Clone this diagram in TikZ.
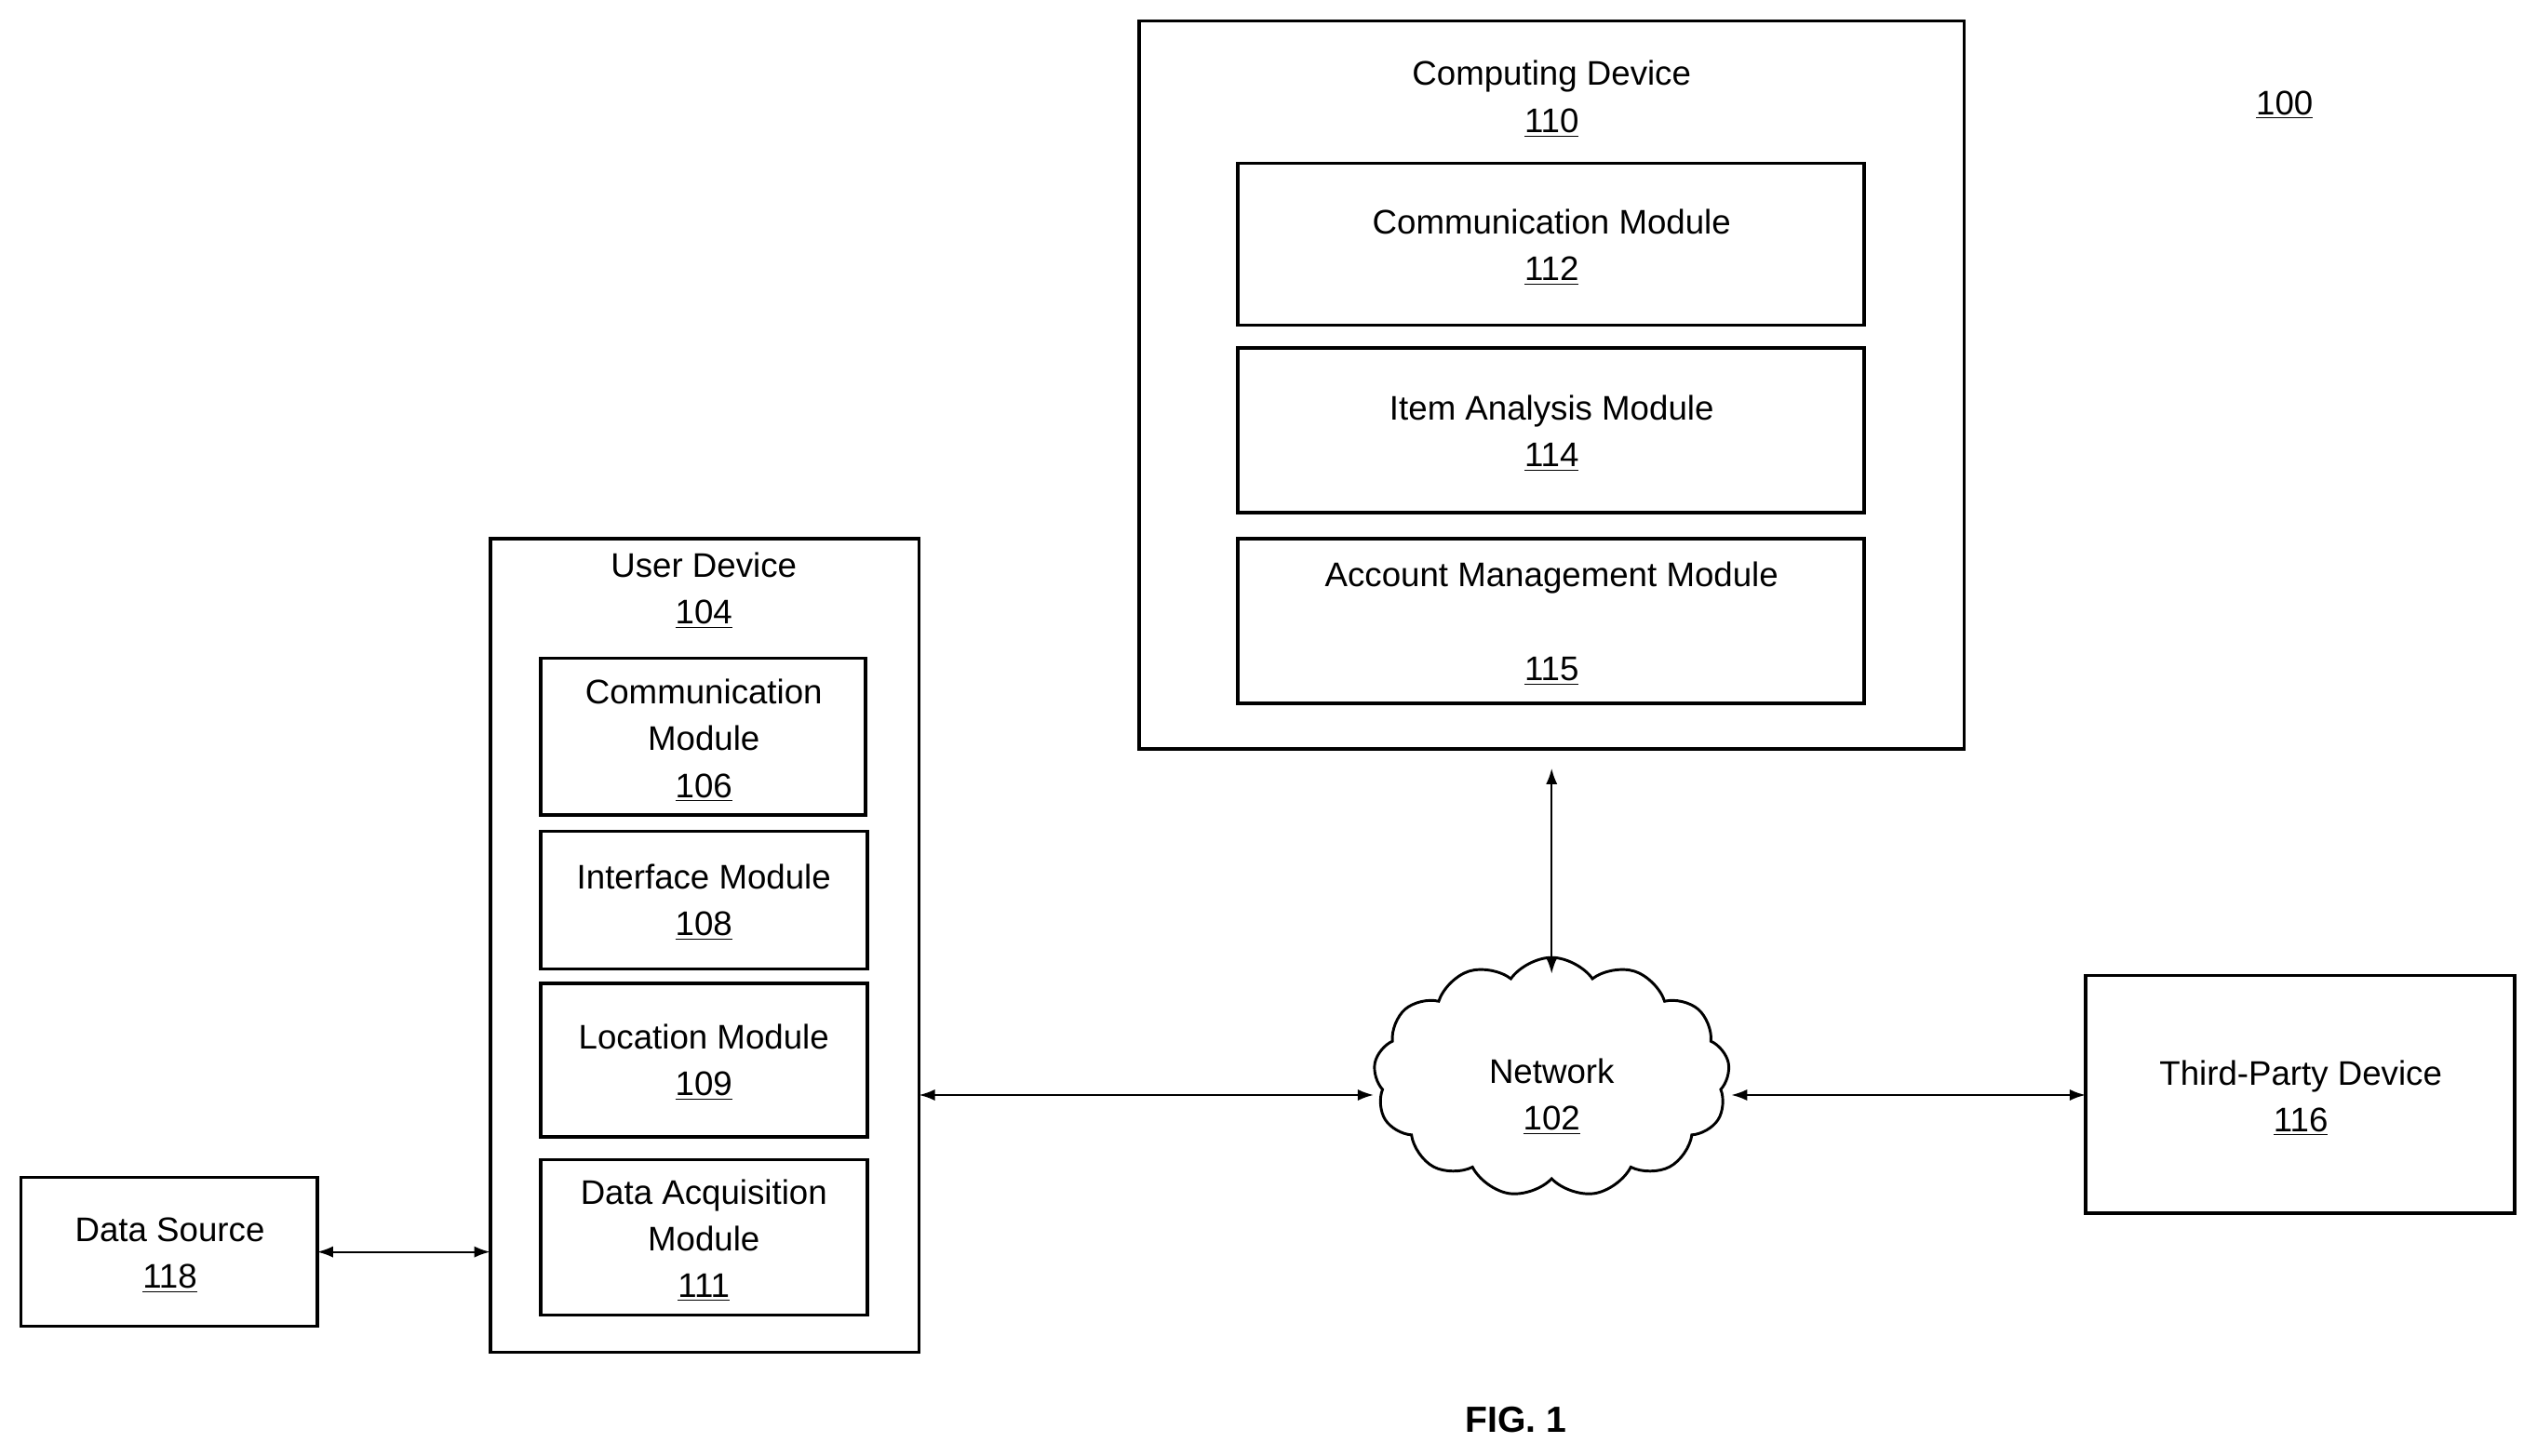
\documentclass[tikz,border=0pt]{standalone}
\usepackage{fontspec}
\setmainfont{Liberation Sans}
\usetikzlibrary{fit,shapes.symbols,arrows.meta}
\begin{document}
\begin{tikzpicture}[x=0.025cm,y=-0.025cm,
  box/.style={draw,line width=1.5pt,inner sep=0pt},
  lbl/.style={font=\fontsize{15}{18}\selectfont,align=center,inner sep=0pt},
  arr/.style={line width=0.9pt,{Latex[length=7pt,width=5pt]}-{Latex[length=7pt,width=5pt]}}]
\useasboundingbox (0,0) rectangle (1568,900);
\node[box,fit={(704,13)(1214,463)}] (cd) {};
\node[lbl] at (959,47) {Computing Device};
\node[lbl] at (959,76) {\underline{110}};
\node[box,fit={(765,101)(1152,201)}] (cm) {};
\node[lbl] at (959,153) {Communication Module\\[2.5pt]\underline{112}};
\node[lbl] at (959,268) {Item Analysis Module\\[2.5pt]\underline{114}};
\node[box,fit={(765,215)(1152,317)}] (ia) {};
\node[box,fit={(765,333)(1152,435)}] (am) {};
\node[lbl] at (959,357) {Account Management Module};
\node[lbl] at (959,415) {\underline{115}};
\node[lbl] at (1412,65) {\underline{100}};
\node[box,fit={(303,333)(568,836)}] (ud) {};
\node[lbl] at (435,365) {User Device\\[2.5pt]\underline{104}};
\node[box,fit={(334,407)(535,504)}] (c6) {};
\node[lbl] at (435,458) {Communication\\[2.5pt]Module\\[2.5pt]\underline{106}};
\node[box,fit={(334,514)(536,599)}] (i8) {};
\node[lbl] at (435,558) {Interface Module\\[2.5pt]\underline{108}};
\node[box,fit={(334,608)(536,703)}] (l9) {};
\node[lbl] at (435,657) {Location Module\\[2.5pt]\underline{109}};
\node[box,fit={(334,717)(536,813)}] (d11) {};
\node[lbl] at (435,767) {Data Acquisition\\[2.5pt]Module\\[2.5pt]\underline{111}};
\node[box,fit={(13,728)(196,820)}] (ds) {};
\node[lbl] at (105,776) {Data Source\\[2.5pt]\underline{118}};
\node[box,fit={(1289,603)(1554,750)}] (tp) {};
\node[lbl] at (1422,679) {Third-Party Device\\[2.5pt]\underline{116}};
\node[cloud,draw,line width=1.2pt,cloud puffs=13,cloud puff arc=110,aspect=1.5,
  minimum width=5.5cm,minimum height=3.7cm,inner sep=0pt] (net) at (959,666) {};
\node[lbl] at (959,678) {Network\\[2.5pt]\underline{102}};
\node[font=\bfseries\fontsize{16}{18}\selectfont] at (937,878) {FIG. 1};
\coordinate (a1) at (196,774); \coordinate (a2) at (303,774);
\draw[arr] (a1) -- (a2);
\coordinate (b1) at (568,677); \coordinate (b2) at (849,677);
\draw[arr] (b1) -- (b2);
\coordinate (c1) at (1070,677); \coordinate (c2) at (1289,677);
\draw[arr] (c1) -- (c2);
\coordinate (d1) at (959,475); \coordinate (d2) at (959,602);
\draw[arr] (d1) -- (d2);
\end{tikzpicture}
\end{document}
